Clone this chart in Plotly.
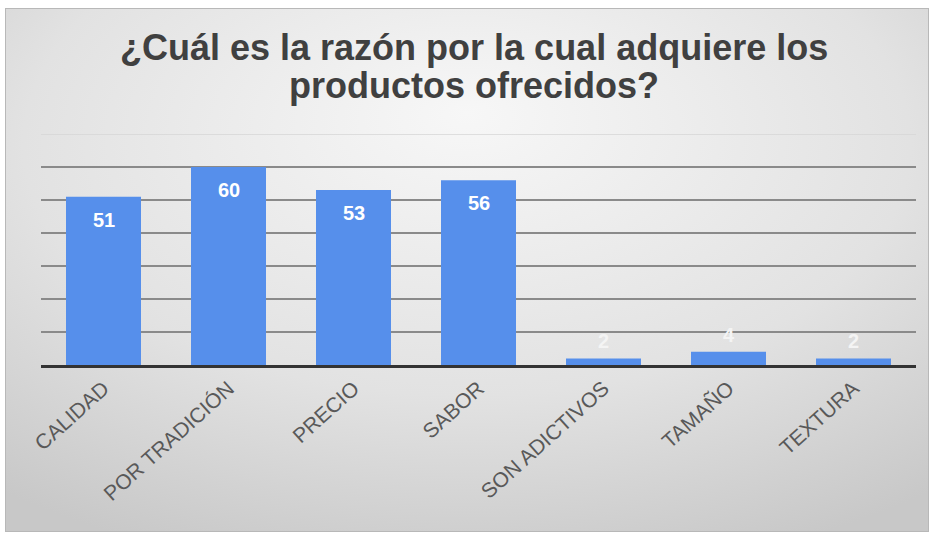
import plotly.graph_objects as go
import urllib.parse

categories = ["CALIDAD", "POR TRADICIÓN", "PRECIO", "SABOR", "SON ADICTIVOS", "TAMAÑO", "TEXTURA"]
values = [51, 60, 53, 56, 2, 4, 2]
title_lines = ["¿Cuál es la razón por la cual adquiere los", "productos ofrecidos?"]

W, H = 934, 535
L, R, T, B = 41, 18, 134, 170
PW, PH = W - L - R, H - T - B

def px_x(px):
    return (px - L) / PW

def px_y(py):
    return (H - B - py) / PH

fig = go.Figure()
fig.add_trace(go.Bar(
    x=categories, y=values,
    marker=dict(color="#568FEB", line=dict(width=0)),
    hoverinfo="skip",
))

# background gradient (svg radial)
svg = ('<svg xmlns="http://www.w3.org/2000/svg" width="924" height="524" viewBox="0 0 924 524" preserveAspectRatio="none">'
       '<defs><radialGradient id="g" cx="50%" cy="30%" r="80%" fx="50%" fy="20%">'
       '<stop offset="0%" stop-color="#f7f7f7"/><stop offset="60%" stop-color="#e2e2e2"/>'
       '<stop offset="100%" stop-color="#c8c8c8"/></radialGradient></defs>'
       '<rect x="0" y="0" width="924" height="524" fill="url(#g)" stroke="#b8b8b8" stroke-width="2"/></svg>')
src = "data:image/svg+xml;charset=utf-8," + urllib.parse.quote(svg)

fig.add_layout_image(dict(
    source=src, xref="paper", yref="paper",
    x=px_x(5), y=px_y(8), sizex=924 / PW, sizey=524 / PH,
    xanchor="left", yanchor="top", sizing="stretch", layer="below",
))

annotations = []
for c, v in zip(categories, values):
    if v >= 10:
        annotations.append(dict(x=c, y=v, xref="x", yref="y", text="<b>%d</b>" % v, showarrow=False,
                                yanchor="middle", yshift=-23,
                                font=dict(family="Liberation Sans, Arial", size=20, color="white")))
    else:
        annotations.append(dict(x=c, y=v, xref="x", yref="y", text="<b>%d</b>" % v, showarrow=False,
                                yanchor="bottom", yshift=4,
                                font=dict(family="Liberation Sans, Arial", size=20, color="#f4f4f4")))

title_y = [48, 86]
for line, py in zip(title_lines, title_y):
    annotations.append(dict(x=px_x(474), y=px_y(py), xref="paper", yref="paper", text="<b>" + line + "</b>",
                            showarrow=False, xanchor="center", yanchor="middle",
                            font=dict(family="Liberation Sans, Arial", size=36, color="#404040")))

fig.update_layout(
    width=W, height=H,
    margin=dict(l=L, r=R, t=T, b=B, pad=0),
    paper_bgcolor="white", plot_bgcolor="rgba(0,0,0,0)",
    showlegend=False, bargap=0.4,
    annotations=annotations,
    shapes=[dict(type="line", xref="paper", yref="y", x0=0, x1=1, y0=70, y1=70,
                 line=dict(color="#d6d6d6", width=1.5), layer="below")],
)
fig.update_xaxes(
    showline=True, linecolor="#333333", linewidth=3, ticks="", showgrid=False,
    tickangle=-42, tickfont=dict(family="Liberation Sans, Arial", size=21, color="#595959"),
)
fig.update_yaxes(
    range=[0, 70], tickvals=[10, 20, 30, 40, 50, 60], showticklabels=False,
    showgrid=True, gridcolor="#8a8a8a", gridwidth=2, zeroline=False, ticks="",
)

fig.write_html("out.html", config={"displayModeBar": False},
               post_script="document.body.style.margin='0';")
